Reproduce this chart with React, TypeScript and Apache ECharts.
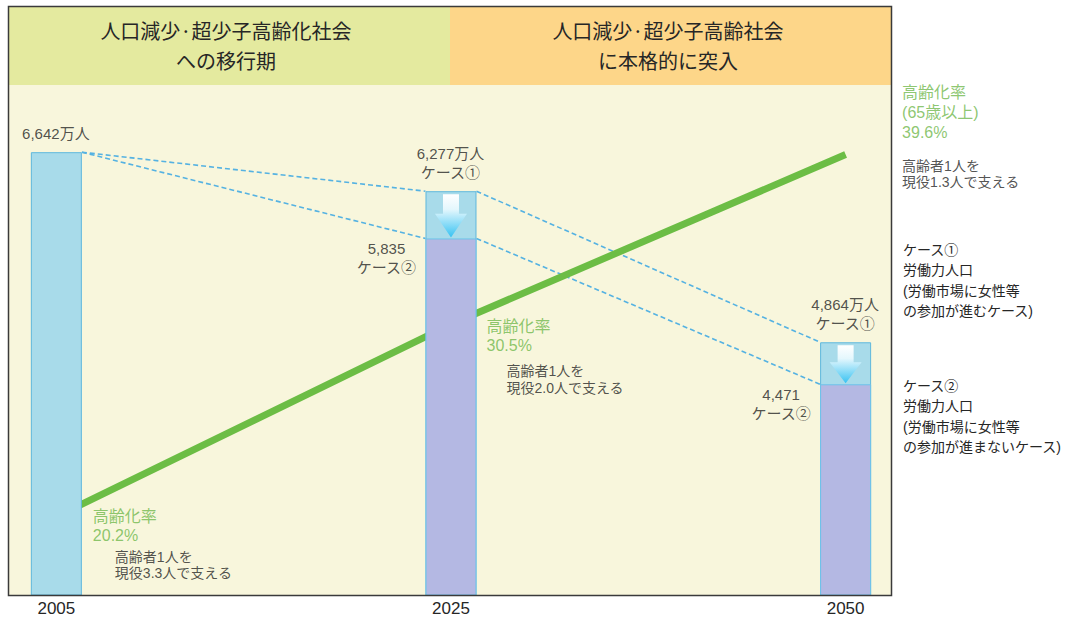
import React, { useEffect, useRef } from 'react';
import * as echarts from 'echarts';

// ---------- data ----------
const years = ['2005', '2025', '2050'];
// 労働力人口（万人）: 2005 actual, then case ① / case ②
const popCase1 = [6642, 6277, 4864];
const popCase2: (number | null)[] = [null, 5835, 4471];
// 高齢化率（65歳以上, %）
const agingRate = [20.2, 30.5, 39.6];
// 高齢者1人を支える現役の人数
const supportRatio = [3.3, 2.0, 1.3];

const headerLeft = ['人口減少·超少子高齢化社会', 'への移行期'];
const headerRight = ['人口減少·超少子高齢社会', 'に本格的に突入'];
const noteCase1 = ['ケース①', '労働力人口', '(労働市場に女性等', 'の参加が進むケース)'];
const noteCase2 = ['ケース②', '労働力人口', '(労働市場に女性等', 'の参加が進まないケース)'];
const caseNames = ['ケース①', 'ケース②'];

// ---------- styles ----------
const BAR_W = 51;
const JP = "'Noto Sans CJK JP', sans-serif";
const MIX = "'Liberation Sans', 'Noto Sans CJK JP', sans-serif";
const TXT = '#262626';
const GREEN = '#6cbd45';
const GREEN_TXT = '#70b84c';

const fmt = (v: number) => v.toLocaleString('en-US');

export default function App() {
  const ref = useRef<HTMLDivElement>(null);

  useEffect(() => {
    if (!ref.current) return;
    const chart = echarts.init(ref.current, undefined, { renderer: 'svg' });

    const case2Path = [popCase1[0], popCase2[1] as number, popCase2[2] as number];

    // dashed connecting segments [x1, v1, x2, v2]
    const segments: number[][] = [];
    [popCase1, case2Path].forEach((path) => {
      for (let i = 0; i < path.length - 1; i++) {
        segments.push([i, path[i], i + 1, path[i + 1]]);
      }
    });

    const arrows: number[][] = [];
    popCase2.forEach((v, i) => {
      if (v != null) arrows.push([i, popCase1[i], v]);
    });

    const baseLabel = {
      show: true,
      fontSize: 15,
      lineHeight: 19,
      color: TXT,
      fontFamily: MIX,
    };

    const barLabelItems: any[] = [];
    popCase1.forEach((v, i) => {
      barLabelItems.push({
        value: [i, v],
        label: {
          ...baseLabel,
          position: [0, -9],
          align: 'center',
          verticalAlign: 'bottom',
          formatter: i === 0 ? `${fmt(v)}万人` : `${fmt(v)}万人\n${caseNames[0]}`,
        },
      });
    });
    popCase2.forEach((v, i) => {
      if (v == null) return;
      barLabelItems.push({
        value: [i, v],
        label: {
          ...baseLabel,
          position: [-64, 1],
          align: 'center',
          verticalAlign: 'top',
          formatter: `${fmt(v)}\n${caseNames[1]}`,
        },
      });
    });

    const pctLayout = [
      { pos: [37, -9.5], indent: 22, gLH: 19, gapLH: 19, lastLH: 19, extra: '' },
      { pos: [36, -6.5], indent: 20, gLH: 19, gapLH: 23, lastLH: 19, extra: '' },
      { pos: [57, -71], indent: 0, gLH: 20, gapLH: 30, lastLH: 18, extra: '(65歳以上)' },
    ];

    const pctLabelItems = agingRate.map((r, i) => {
      const L = pctLayout[i];
      const lines = [`{g|高齢化率}`];
      if (L.extra) lines.push(`{g|${L.extra}}`);
      lines.push(`{g|${r.toFixed(1)}%}`);
      lines.push(`{b1|高齢者1人を}`);
      lines.push(`{b|現役${supportRatio[i].toFixed(1)}人で支える}`);
      return {
        value: [i, r],
        label: {
          show: true,
          position: L.pos,
          align: 'left',
          verticalAlign: 'top',
          formatter: lines.join('\n'),
          rich: {
            g: { fontSize: 16, lineHeight: L.gLH, color: GREEN_TXT, fontFamily: MIX },
            b1: {
              fontSize: 14,
              lineHeight: L.gapLH,
              color: TXT,
              fontFamily: MIX,
              padding: [0, 0, 0, L.indent],
              verticalAlign: 'bottom',
            },
            b: {
              fontSize: 14,
              lineHeight: L.lastLH,
              color: TXT,
              fontFamily: MIX,
              padding: [0, 0, 0, L.indent],
            },
          },
        },
      };
    });

    const option: any = {
      animation: false,
      grid: {
        left: 9,
        right: 185,
        top: 7,
        bottom: 24,
        show: true,
        backgroundColor: '#f8f6dc',
        borderWidth: 0,
      },
      xAxis: {
        type: 'value',
        min: -0.12,
        max: 2.115,
        axisLine: { show: false },
        axisTick: { show: false },
        splitLine: { show: false },
        axisLabel: {
          customValues: [0, 1, 2],
          formatter: (v: number) => years[Math.round(v)] ?? '',
          fontSize: 17,
          color: TXT,
          fontFamily: MIX,
          margin: 5,
        },
      },
      yAxis: [
        { type: 'value', min: 2500, max: 8000, show: false, splitLine: { show: false } },
        { type: 'value', min: 16, max: 47.5, show: false, splitLine: { show: false } },
      ],
      series: [
        {
          name: '高齢化率',
          type: 'line',
          yAxisIndex: 1,
          z: 1.6,
          silent: true,
          symbol: 'none',
          data: agingRate.map((v, i) => [i, v]),
          lineStyle: { width: 7, color: GREEN, cap: 'butt' },
        },
        {
          name: 'dashed',
          type: 'custom',
          z: 1.5,
          silent: true,
          encode: { x: [0, 2], y: [1, 3] },
          data: segments,
          renderItem: (_p: any, api: any) => {
            const p1 = api.coord([api.value(0), api.value(1)]);
            const p2 = api.coord([api.value(2), api.value(3)]);
            return {
              type: 'line',
              shape: { x1: p1[0] + BAR_W / 2, y1: p1[1], x2: p2[0] - BAR_W / 2, y2: p2[1] },
              style: { stroke: '#55b2e2', lineWidth: 1.6, lineDash: [5, 3] },
            };
          },
        },
        {
          name: 'ケース①',
          type: 'bar',
          z: 2,
          silent: true,
          barWidth: BAR_W,
          barGap: '-100%',
          data: popCase1.map((v, i) => [i, v]),
          itemStyle: { color: '#a8dbea', borderColor: '#5fb8dd', borderWidth: 1 },
        },
        {
          name: 'ケース②',
          type: 'bar',
          z: 2,
          silent: true,
          barWidth: BAR_W,
          barGap: '-100%',
          data: popCase2.map((v, i) => (v == null ? [i, null] : [i, v])),
          itemStyle: { color: '#b4b8e3', borderColor: '#6cc3ea', borderWidth: 1 },
        },
        {
          name: 'arrows',
          type: 'custom',
          z: 3,
          silent: true,
          encode: { x: 0, y: [1, 2] },
          data: arrows,
          renderItem: (_p: any, api: any) => {
            const x = api.value(0);
            const t = api.coord([x, api.value(1)]);
            const b = api.coord([x, api.value(2)]);
            const cx = t[0];
            const top = t[1] + 3;
            const bot = b[1] - 1;
            const h = bot - top;
            const headH = Math.min(28, h * 0.55);
            const sw = 8;
            const hw = 16;
            return {
              type: 'polygon',
              shape: {
                points: [
                  [cx - sw, top],
                  [cx + sw, top],
                  [cx + sw, bot - headH],
                  [cx + hw, bot - headH],
                  [cx, bot],
                  [cx - hw, bot - headH],
                  [cx - sw, bot - headH],
                ],
              },
              style: {
                fill: new echarts.graphic.LinearGradient(0, 0, 0, 1, [
                  { offset: 0, color: '#ffffff' },
                  { offset: 0.35, color: '#e4f7fd' },
                  { offset: 1, color: '#37c2f2' },
                ]),
              },
            };
          },
        },
        {
          name: 'barLabels',
          type: 'scatter',
          z: 5,
          silent: true,
          symbolSize: 1,
          itemStyle: { color: 'rgba(0,0,0,0)' },
          data: barLabelItems,
        },
        {
          name: 'pctLabels',
          type: 'scatter',
          yAxisIndex: 1,
          z: 5,
          silent: true,
          symbolSize: 1,
          itemStyle: { color: 'rgba(0,0,0,0)' },
          data: pctLabelItems,
        },
      ],
      graphic: [
        { type: 'rect', z: 1, silent: true, shape: { x: 9, y: 7, width: 441, height: 78 }, style: { fill: '#e4ea9f' } },
        { type: 'rect', z: 1, silent: true, shape: { x: 450, y: 7, width: 441, height: 78 }, style: { fill: '#fdd689' } },
        {
          type: 'text', z: 10, silent: true,
          style: { text: headerLeft.join('\n'), x: 226, y: 45, align: 'center', verticalAlign: 'middle', fontSize: 20, lineHeight: 30, fontFamily: JP, fill: TXT },
        },
        {
          type: 'text', z: 10, silent: true,
          style: { text: headerRight.join('\n'), x: 668, y: 45, align: 'center', verticalAlign: 'middle', fontSize: 20, lineHeight: 30, fontFamily: JP, fill: TXT },
        },
        {
          type: 'rect', z: 10, silent: true,
          shape: { x: 8.5, y: 6.5, width: 883, height: 589 },
          style: { fill: 'none', stroke: '#3a3a3a', lineWidth: 1.5 },
        },
        {
          type: 'text', z: 10, silent: true,
          style: { text: noteCase1.join('\n'), x: 903, y: 240, align: 'left', verticalAlign: 'top', fontSize: 14, lineHeight: 20.3, fontFamily: MIX, fill: TXT },
        },
        {
          type: 'text', z: 10, silent: true,
          style: { text: noteCase2.join('\n'), x: 903, y: 376, align: 'left', verticalAlign: 'top', fontSize: 14, lineHeight: 20.3, fontFamily: MIX, fill: TXT },
        },
      ],
    };

    chart.setOption(option);
    return () => chart.dispose();
  }, []);

  return (
    <div
      ref={ref}
      style={{ position: 'fixed', left: 0, top: 0, width: 1076, height: 619, background: '#ffffff' }}
    />
  );
}
